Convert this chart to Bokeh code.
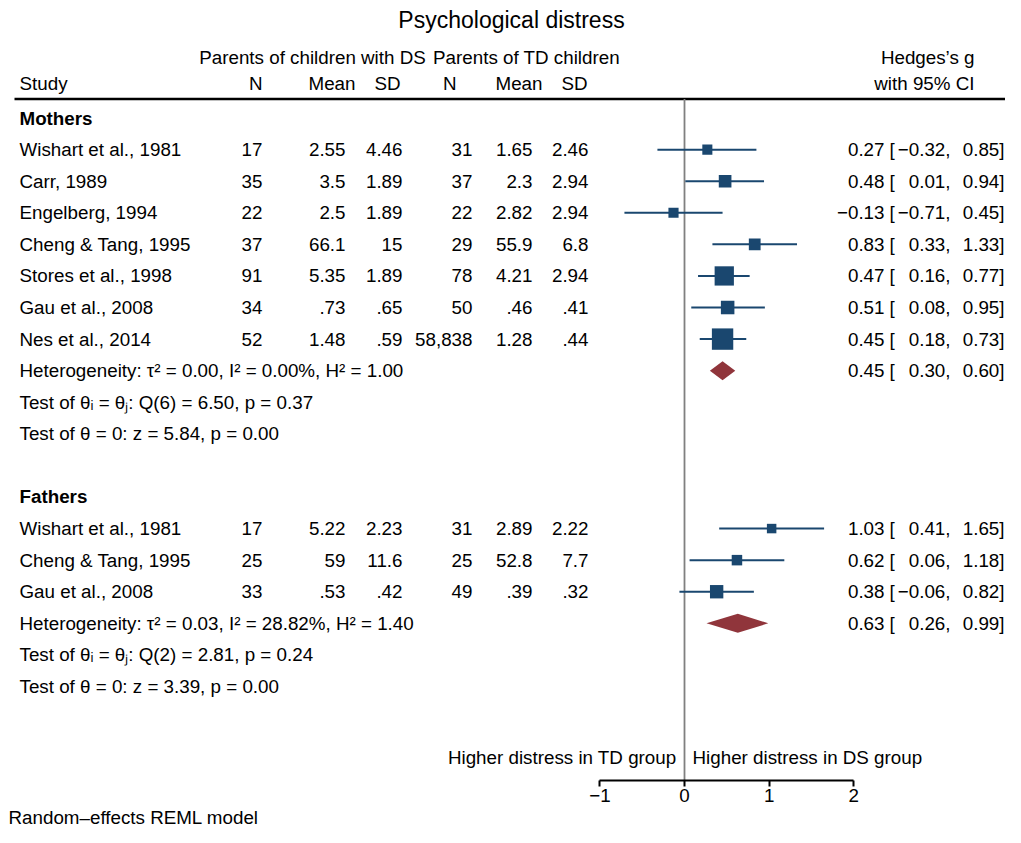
import math
from bokeh.plotting import figure
from bokeh.models import Range1d, FixedTicker, Title
from bokeh.core.properties import value
from bokeh.embed import file_html
from bokeh.resources import INLINE

# ---------------- data ----------------
title_text = "Psychological distress"

studies_m = ["Wishart et al., 1981", "Carr, 1989", "Engelberg, 1994", "Cheng & Tang, 1995",
             "Stores et al., 1998", "Gau et al., 2008", "Nes et al., 2014"]
n_ds_m = ["17", "35", "22", "37", "91", "34", "52"]
mean_ds_m = ["2.55", "3.5", "2.5", "66.1", "5.35", ".73", "1.48"]
sd_ds_m = ["4.46", "1.89", "1.89", "15", "1.89", ".65", ".59"]
n_td_m = ["31", "37", "22", "29", "78", "50", "58,838"]
mean_td_m = ["1.65", "2.3", "2.82", "55.9", "4.21", ".46", "1.28"]
sd_td_m = ["2.46", "2.94", "2.94", "6.8", "2.94", ".41", ".44"]
g_m = [0.27, 0.48, -0.13, 0.83, 0.47, 0.51, 0.45]
lo_m = [-0.32, 0.01, -0.71, 0.33, 0.16, 0.08, 0.18]
hi_m = [0.85, 0.94, 0.45, 1.33, 0.77, 0.95, 0.73]
overall_m = [0.45, 0.30, 0.60]
stats_m = ["Heterogeneity: \u03c4\u00b2 = 0.00, I\u00b2 = 0.00%, H\u00b2 = 1.00",
           "Test of \u03b8\u1d62 = \u03b8\u2c7c: Q(6) = 6.50, p = 0.37",
           "Test of \u03b8 = 0: z = 5.84, p = 0.00"]

studies_f = ["Wishart et al., 1981", "Cheng & Tang, 1995", "Gau et al., 2008"]
n_ds_f = ["17", "25", "33"]
mean_ds_f = ["5.22", "59", ".53"]
sd_ds_f = ["2.23", "11.6", ".42"]
n_td_f = ["31", "25", "49"]
mean_td_f = ["2.89", "52.8", ".39"]
sd_td_f = ["2.22", "7.7", ".32"]
g_f = [1.03, 0.62, 0.38]
lo_f = [0.41, 0.06, -0.06]
hi_f = [1.65, 1.18, 0.82]
overall_f = [0.63, 0.26, 0.99]
stats_f = ["Heterogeneity: \u03c4\u00b2 = 0.03, I\u00b2 = 28.82%, H\u00b2 = 1.40",
           "Test of \u03b8\u1d62 = \u03b8\u2c7c: Q(2) = 2.81, p = 0.24",
           "Test of \u03b8 = 0: z = 3.39, p = 0.00"]

groups = ["Mothers", "Fathers"]
group_header_ds = "Parents of children with DS"
group_header_td = "Parents of TD children"
col_headers = ["Study", "N", "Mean", "SD", "N", "Mean", "SD"]
es_header = ["Hedges\u2019s g", "with 95% CI"]
side_labels = ["Higher distress in TD group", "Higher distress in DS group"]
x_ticks = [-1, 0, 1, 2]
footnote = "Random\u2013effects REML model"

# ---------------- style / layout ----------------
FONT = "Liberation Sans"
FS = "18.8px"
NAVY = "#1a476f"
MAROON = "#90353b"
ZERO = "#808080"

W, H = 1005, 827
X0_PX, PX_UNIT = 684.0, 84.6
ROW0_PX, ROW_PX = 118.0, 31.7
BOT_PX = 783.0
RS = 16  # shift of the right-hand text block so it fits


def gx(px):
    return (px - X0_PX) / PX_UNIT


def ry(py):
    return (py - ROW0_PX) / ROW_PX


p = figure(width=W, height=H,
           x_range=Range1d(gx(0), gx(W)),
           y_range=Range1d(ry(BOT_PX), ry(0)),
           output_backend="svg", toolbar_location=None, y_axis_type=None,
           min_border_left=0, min_border_right=0, min_border_top=0,
           min_border_bottom=20)
p.outline_line_color = None
p.grid.visible = False
p.background_fill_color = "white"


def txt(xs, ys, texts, align="left", size=FS, style="normal"):
    p.text(x=xs, y=ys, text=texts, text_align=align, text_baseline="middle",
           text_font=value(FONT), text_font_size=size, text_font_style=style,
           text_color="black")


def fmt(v):
    return f"{v:.2f}".replace("-", "\u2212")


# headers
txt([gx(511)], [ry(20)], [title_text], align="center", size="23px")
txt([gx(312)], [ry(57)], [group_header_ds], align="center")
txt([gx(526)], [ry(57)], [group_header_td], align="center")
txt([gx(990 - RS)], [ry(57)], [es_header[0]], align="right")
txt([gx(990 - RS)], [ry(83)], [es_header[1]], align="right")
txt([gx(19)], [ry(83)], [col_headers[0]])
hdr_x = [262, 355, 400, 456, 542, 587]
txt([gx(v) for v in hdr_x], [ry(83)] * 6, col_headers[1:], align="right")

# header rule and zero line
p.segment(x0=[gx(14)], x1=[gx(W)], y0=[ry(99)], y1=[ry(99)],
          line_color="black", line_width=2.5)
p.segment(x0=[0], x1=[0], y0=[ry(99)], y1=[ry(BOT_PX)], line_color=ZERO, line_width=1.8)

col_x = [262, 345, 402, 472, 532, 588]


def draw_group(start, name, studies, cols, g, lo, hi, overall, stats):
    rows = [start + 1 + i for i in range(len(studies))]
    txt([gx(19)], [start], [name], style="bold")
    txt([gx(19)] * len(studies), rows, studies)
    for cx, col in zip(col_x, cols):
        txt([gx(cx)] * len(col), rows, col, align="right")
    # CI lines and weighted squares
    p.segment(x0=lo, x1=hi, y0=rows, y1=rows, line_color=NAVY, line_width=2)
    sizes = []
    for a, b in zip(lo, hi):
        se = (b - a) / (2 * 1.96)
        sizes.append(3.0 * math.sqrt(1.0 / se ** 2))
    p.scatter(x=g, y=rows, size=sizes, marker="square", fill_color=NAVY, line_color=None)
    # overall diamond
    orow = rows[-1] + 1
    est, olo, ohi = overall
    h = 9.5 / ROW_PX
    p.patch(x=[olo, est, ohi, est], y=[orow, orow - h, orow, orow + h],
            fill_color=MAROON, line_color=None)
    # stats text
    srows = [orow + i for i in range(len(stats))]
    txt([gx(19)] * len(stats), srows, stats)
    # effect size text
    erows = rows + [orow]
    ests = list(g) + [est]
    los = list(lo) + [olo]
    his = list(hi) + [ohi]
    txt([gx(900 - RS)] * len(erows), erows, [fmt(v) for v in ests], align="right")
    txt([gx(905 - RS)] * len(erows), erows, ["["] * len(erows), align="left")
    txt([gx(966 - RS)] * len(erows), erows, [fmt(v) + "," for v in los], align="right")
    txt([gx(1020 - RS)] * len(erows), erows, [fmt(v) + "]" for v in his], align="right")
    return srows[-1]


last = draw_group(0, groups[0], studies_m,
                  [n_ds_m, mean_ds_m, sd_ds_m, n_td_m, mean_td_m, sd_td_m],
                  g_m, lo_m, hi_m, overall_m, stats_m)
draw_group(last + 2, groups[1], studies_f,
           [n_ds_f, mean_ds_f, sd_ds_f, n_td_f, mean_td_f, sd_td_f],
           g_f, lo_f, hi_f, overall_f, stats_f)

txt([gx(676)], [ry(760)], [side_labels[0]], align="right")
txt([gx(692)], [ry(760)], [side_labels[1]], align="left")

# x axis
ax = p.xaxis[0]
ax.bounds = (x_ticks[0], x_ticks[-1])
ax.ticker = FixedTicker(ticks=x_ticks)
ax.major_label_overrides = {t: (str(t).replace("-", "\u2212")) for t in x_ticks}
ax.axis_line_width = 2
ax.axis_line_color = "black"
ax.major_tick_line_width = 2
ax.major_tick_line_color = "black"
ax.major_tick_out = 6
ax.major_tick_in = 0
ax.minor_tick_out = 0
ax.minor_tick_in = 0
ax.major_label_standoff = 2
ax.major_label_text_font = FONT
ax.major_label_text_font_size = FS
ax.major_label_text_color = "black"

p.add_layout(Title(text=footnote, align="left", offset=8, standoff=0,
                   text_font=FONT, text_font_size=FS, text_font_style="normal",
                   text_color="black"), "below")

open("out.html", "w").write(file_html(p, INLINE))
